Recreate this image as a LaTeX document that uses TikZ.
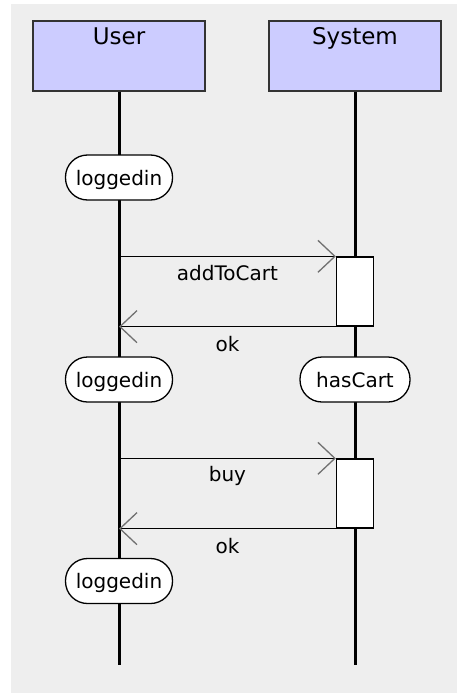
\documentclass[tikz,border=0pt]{standalone}
\usepackage{fontspec}
\setmainfont{DejaVu Sans}
\usetikzlibrary{arrows.meta}
\definecolor{headfill}{HTML}{CCCCFF}
\definecolor{canvas}{HTML}{EEEEEE}
\definecolor{tipgray}{HTML}{707070}
\begin{document}
\begin{tikzpicture}[x=1pt,y=-1pt,
  head/.style={draw=black!80, line width=1.2pt, fill=headfill,
    minimum width=172pt, minimum height=70pt, inner sep=4pt,
    text height=20pt, text depth=42pt, font=\fontsize{23}{26}\selectfont},
  lifeline/.style={line width=3pt},
  state/.style={draw, line width=1.3pt, fill=white, rounded corners=22pt,
    minimum width=107pt, minimum height=45pt, inner xsep=8pt, inner ysep=0pt,
    text height=20pt, text depth=5pt, font=\fontsize{20}{24}\selectfont},
  act/.style={draw, line width=1.3pt, fill=white,
    minimum width=37pt, minimum height=69pt, inner sep=0pt},
  msg/.style={line width=1.5pt,
    -{Straight Barb[length=17pt, width=32pt, line width=1.3pt, color=tipgray]}},
  lbl/.style={font=\fontsize{20}{24}\selectfont, inner sep=0pt}
]
% canvas
\useasboundingbox (0,0) rectangle (457,693);
\fill[canvas] (11,4) rectangle (457,693);

% participants and lifelines
\node[head] (user) at (119,56) {User};
\node[head] (system) at (355,56) {System};
\coordinate (userend) at (119,665);
\coordinate (systemend) at (355,665);
\draw[lifeline] (user.south) -- (userend);
\draw[lifeline] (system.south) -- (systemend);

% states and activations
\node[state] (s1) at (119,177.5) {loggedin};
\node[act] (a1) at (355,291.5) {};
\node[state] (s2) at (119,379.5) {loggedin};
\node[state, minimum width=110pt] (s3) at (355,379.5) {hasCart};
\node[act] (a2) at (355,493.5) {};
\node[state] (s4) at (119,581) {loggedin};

% messages
\draw[msg] (user |- a1.north west) -- node[lbl, below=8pt] {addToCart} (a1.north west);
\draw[msg] (a1.south west) -- node[lbl, below=9pt] {ok} (a1.south west -| user);
\draw[msg] (user |- a2.north west) -- node[lbl, below=7pt] {buy} (a2.north west);
\draw[msg] (a2.south west) -- node[lbl, below=9pt] {ok} (a2.south west -| user);
\end{tikzpicture}
\end{document}
